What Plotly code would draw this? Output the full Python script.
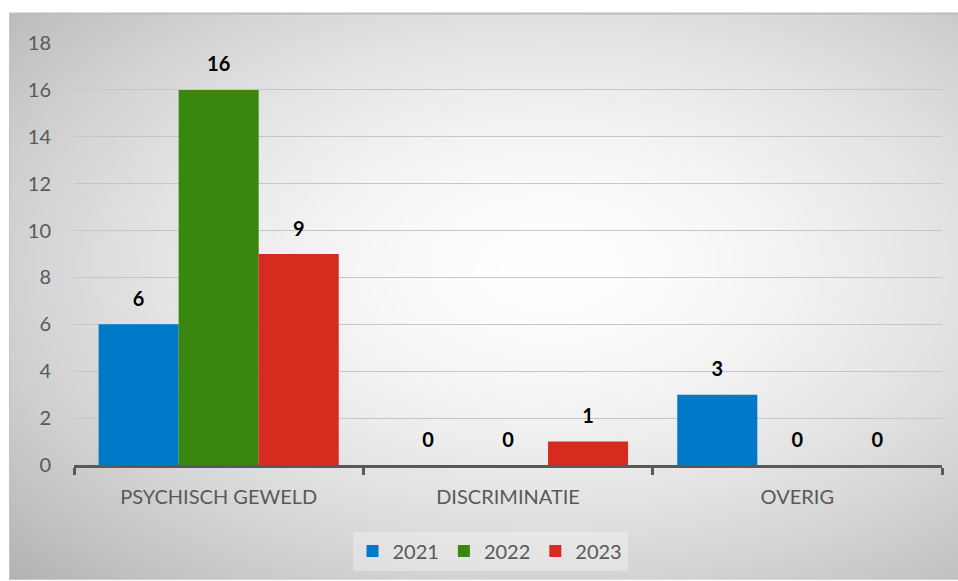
import base64, struct, zlib
import numpy as np
import plotly.graph_objects as go

categories = ["PSYCHISCH GEWELD", "DISCRIMINATIE", "OVERIG"]
years = ["2021", "2022", "2023"]
values_2021 = [6, 0, 3]
values_2022 = [16, 0, 0]
values_2023 = [9, 1, 0]
series = [values_2021, values_2022, values_2023]
colors = ["#0079C8", "#3A870F", "#D62B1F"]
y_ticks = [0, 2, 4, 6, 8, 10, 12, 14, 16, 18]

# --- radial gradient background image (PNG built in memory) ---
W, H = 950, 568
yy, xx = np.mgrid[0:H, 0:W].astype(float)
cx, cy = 0.57 * W, 0.45 * H
r = np.sqrt(((xx - cx) / (W / 2)) ** 2 + ((yy - cy) / (H / 2)) ** 2) / np.sqrt(2)
v = 255 - 64 * np.clip(r, 0, 1.2) ** 1.6
v = np.clip(v, 0, 255).astype(np.uint8)

def png_gray(arr):
    h, w = arr.shape
    raw = b"".join(b"\x00" + arr[i].tobytes() for i in range(h))
    def chunk(t, d):
        c = struct.pack(">I", len(d)) + t + d
        return c + struct.pack(">I", zlib.crc32(t + d) & 0xFFFFFFFF)
    return (b"\x89PNG\r\n\x1a\n" + chunk(b"IHDR", struct.pack(">IIBBBBB", w, h, 8, 0, 0, 0, 0))
            + chunk(b"IDAT", zlib.compress(raw, 9)) + chunk(b"IEND", b""))

img_uri = "data:image/png;base64," + base64.b64encode(png_gray(v)).decode()

FIG_W, FIG_H = 958, 581
ML, MR, MT, MB = 74, 16, 43, 115
PW, PH = FIG_W - ML - MR, FIG_H - MT - MB

def px_to_paper_x(px):
    return (px - ML) / PW

def px_to_paper_y(py):
    return (FIG_H - MB - py) / PH

FONT = "Lato"
GAP = 0.17

fig = go.Figure()
for yr, vals, col in zip(years, series, colors):
    fig.add_trace(go.Bar(
        name=yr, x=categories, y=vals, marker=dict(color=col, line=dict(width=0)),
        offsetgroup=yr,
    ))
for yr, vals in zip(years, series):
    fig.add_trace(go.Scatter(
        x=categories, y=vals, mode="markers+text", offsetgroup=yr, showlegend=False,
        marker=dict(size=20, opacity=0), hoverinfo="skip",
        text=[f"<b>{v_}</b>" for v_ in vals], textposition="top center",
        textfont=dict(family=FONT, size=20, color="#000000"), cliponaxis=False,
    ))

fig.update_layout(
    width=FIG_W, height=FIG_H,
    margin=dict(l=ML, r=MR, t=MT, b=MB),
    paper_bgcolor="white", plot_bgcolor="rgba(0,0,0,0)",
    barmode="group", bargap=GAP, bargroupgap=0,
    scattermode="group", scattergap=GAP,
    font=dict(family=FONT, size=20, color="#595959"),
    showlegend=True,
    legend=dict(orientation="h", x=px_to_paper_x(490), xanchor="center",
                y=px_to_paper_y(551), yanchor="middle",
                bgcolor="rgba(255,255,255,0.3)", font=dict(family=FONT, size=20, color="#595959"),
                itemwidth=30, traceorder="normal"),
    images=[dict(source=img_uri, xref="paper", yref="paper",
                 x=px_to_paper_x(9), y=px_to_paper_y(13),
                 sizex=(FIG_W - 9) / PW, sizey=(FIG_H - 13) / PH,
                 xanchor="left", yanchor="top", sizing="stretch", layer="below")],
    shapes=[dict(type="line", xref="paper", yref="paper",
                 x0=px_to_paper_x(9), x1=px_to_paper_x(FIG_W), y0=px_to_paper_y(13.5), y1=px_to_paper_y(13.5),
                 line=dict(color="#bdbdbd", width=2)),
            dict(type="line", xref="paper", yref="paper",
                 x0=px_to_paper_x(9.5), x1=px_to_paper_x(9.5), y0=px_to_paper_y(13), y1=px_to_paper_y(FIG_H),
                 line=dict(color="#c4c4c4", width=1))],
)
fig.update_xaxes(showgrid=False, showline=True, linecolor="#595959", linewidth=3,
                 ticks="outside", tickson="boundaries", ticklen=7, tickwidth=3, tickcolor="#595959",
                 tickfont=dict(family=FONT, size=20, color="#595959"), ticklabelstandoff=12)
fig.update_yaxes(range=[0, 18], tickvals=y_ticks, showgrid=True, gridcolor="#c6c6c6", gridwidth=1,
                 zeroline=False, showline=False, ticks="", tickfont=dict(family=FONT, size=20, color="#595959"),
                 ticklabelstandoff=22)

fig.write_html("out.html", config={"displayModeBar": False},
               post_script="document.body.style.margin='0';")
